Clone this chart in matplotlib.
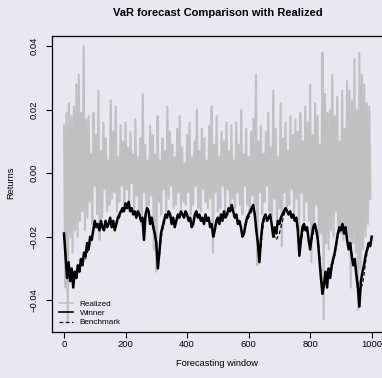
import matplotlib
matplotlib.use("Agg")
import matplotlib.pyplot as plt
import numpy as np

plt.rcParams['font.family'] = ['Liberation Sans', 'DejaVu Sans']

# realized returns, one value every 4 steps of the forecasting window
realized = [
    0.015, -0.036, 0.019, -0.047, 0.022, -0.020, 0.018, -0.025, 0.021, -0.018,
    0.028, -0.020, 0.031, -0.015, 0.019, -0.012, 0.040, -0.018, 0.017, -0.014,
    0.018, -0.009, 0.006, -0.016, 0.019, -0.004, 0.012, -0.013, 0.026, -0.021,
    0.007, -0.014, 0.016, -0.005, 0.011, -0.012, 0.004, -0.010, 0.023, -0.008,
    0.013, -0.006, 0.021, -0.012, 0.005, -0.009, 0.015, -0.004, 0.010, -0.011,
    0.016, -0.005, 0.008, -0.010, 0.013, -0.003, 0.006, -0.011, 0.017, -0.007,
    0.005, -0.012, 0.011, -0.016, 0.025, -0.006, 0.009, -0.012, 0.004, -0.010,
    0.015, -0.007, 0.012, -0.024, 0.006, -0.031, 0.018, -0.009, 0.004, -0.013,
    0.011, -0.005, 0.007, -0.012, 0.021, -0.008, 0.013, -0.004, 0.009, -0.011,
    0.005, -0.010, 0.014, -0.006, 0.018, -0.011, 0.008, -0.009, 0.003, -0.010,
    0.012, -0.006, 0.016, -0.013, 0.005, -0.010, 0.010, -0.004, 0.020, -0.011,
    0.007, -0.012, 0.014, -0.005, 0.011, -0.009, 0.004, -0.011, 0.015, -0.008,
    0.021, -0.025, 0.009, -0.006, 0.018, -0.012, 0.005, -0.011, 0.013, -0.004,
    0.010, -0.012, 0.016, -0.005, 0.007, -0.012, 0.015, -0.008, 0.004, -0.011,
    0.016, -0.006, 0.009, -0.010, 0.020, -0.013, 0.006, -0.004, 0.014, -0.010,
    0.005, -0.012, 0.013, -0.007, 0.017, -0.010, 0.031, -0.029, 0.010, -0.006,
    0.015, -0.013, 0.006, -0.009, 0.013, -0.004, 0.019, -0.012, 0.008, -0.014,
    0.026, -0.008, 0.014, -0.016, 0.005, -0.011, 0.022, -0.023, 0.011, -0.006,
    0.016, -0.012, 0.007, -0.010, 0.018, -0.005, 0.012, -0.014, 0.017, -0.008,
    0.013, -0.020, 0.019, -0.006, 0.010, -0.015, 0.021, -0.009, 0.016, -0.015,
    0.028, -0.028, 0.012, -0.018, 0.022, -0.010, 0.018, -0.020, 0.009, -0.019,
    0.038, -0.046, 0.025, -0.022, 0.019, -0.024, 0.020, -0.018, 0.031, -0.020,
    0.018, -0.012, 0.024, -0.017, 0.010, -0.019, 0.026, -0.021, 0.014, -0.018,
    0.029, -0.020, 0.026, -0.036, 0.023, -0.022, 0.036, -0.025, 0.020, -0.043,
    0.038, -0.030, 0.031, -0.024, 0.028, -0.020, 0.022, -0.016, 0.021, -0.008,
]

# VaR forecasts, one value every 5 steps (0 .. 1000)
winner = [
    -0.019, -0.026, -0.033, -0.028, -0.034, -0.030, -0.036, -0.031, -0.033, -0.029,
    -0.031, -0.027, -0.029, -0.025, -0.026, -0.022, -0.024, -0.020, -0.021, -0.018,
    -0.015, -0.017, -0.016, -0.018, -0.015, -0.017, -0.018, -0.015, -0.017, -0.016,
    -0.014, -0.017, -0.015, -0.018, -0.016, -0.014, -0.013, -0.012, -0.011, -0.012,
    -0.0095, -0.011, -0.009, -0.012, -0.011, -0.013, -0.012, -0.014, -0.012, -0.013,
    -0.015, -0.014, -0.021, -0.013, -0.011, -0.012, -0.016, -0.014, -0.017, -0.019,
    -0.022, -0.030, -0.025, -0.019, -0.017, -0.015, -0.013, -0.014, -0.012, -0.013,
    -0.016, -0.014, -0.017, -0.015, -0.013, -0.014, -0.012, -0.013, -0.014, -0.012,
    -0.013, -0.015, -0.014, -0.017, -0.016, -0.013, -0.012, -0.014, -0.013, -0.015,
    -0.014, -0.016, -0.013, -0.015, -0.014, -0.017, -0.016, -0.020, -0.018, -0.015,
    -0.014, -0.016, -0.013, -0.015, -0.012, -0.014, -0.013, -0.011, -0.012, -0.010,
    -0.012, -0.014, -0.013, -0.016, -0.015, -0.017, -0.020, -0.019, -0.016, -0.014,
    -0.013, -0.012, -0.011, -0.010, -0.013, -0.018, -0.022, -0.028, -0.021, -0.016,
    -0.014, -0.013, -0.015, -0.014, -0.013, -0.016, -0.020, -0.017, -0.019, -0.015,
    -0.016, -0.014, -0.013, -0.012, -0.011, -0.012, -0.013, -0.012, -0.014, -0.013,
    -0.015, -0.014, -0.018, -0.026, -0.021, -0.017, -0.016, -0.018, -0.017, -0.021,
    -0.024, -0.020, -0.017, -0.016, -0.018, -0.021, -0.027, -0.033, -0.038, -0.035,
    -0.031, -0.036, -0.030, -0.033, -0.029, -0.027, -0.025, -0.022, -0.019, -0.017,
    -0.018, -0.016, -0.019, -0.017, -0.021, -0.024, -0.022, -0.026, -0.029, -0.027,
    -0.032, -0.036, -0.042, -0.034, -0.031, -0.029, -0.026, -0.024, -0.022, -0.023,
    -0.020,
]

benchmark = [
    -0.020, -0.025, -0.031, -0.030, -0.032, -0.031, -0.034, -0.032, -0.032, -0.030,
    -0.030, -0.028, -0.028, -0.027, -0.027, -0.025, -0.024, -0.022, -0.021, -0.019,
    -0.016, -0.017, -0.017, -0.018, -0.016, -0.017, -0.018, -0.016, -0.017, -0.016,
    -0.015, -0.016, -0.016, -0.017, -0.016, -0.015, -0.014, -0.013, -0.012, -0.012,
    -0.011, -0.011, -0.010, -0.012, -0.011, -0.012, -0.012, -0.013, -0.013, -0.013,
    -0.014, -0.015, -0.019, -0.014, -0.012, -0.012, -0.015, -0.015, -0.016, -0.019,
    -0.023, -0.029, -0.026, -0.021, -0.018, -0.016, -0.014, -0.014, -0.013, -0.013,
    -0.015, -0.015, -0.016, -0.015, -0.014, -0.014, -0.013, -0.013, -0.014, -0.013,
    -0.013, -0.014, -0.015, -0.016, -0.016, -0.014, -0.013, -0.014, -0.014, -0.015,
    -0.015, -0.015, -0.014, -0.015, -0.015, -0.016, -0.017, -0.019, -0.018, -0.016,
    -0.015, -0.015, -0.014, -0.014, -0.013, -0.014, -0.013, -0.012, -0.012, -0.011,
    -0.012, -0.013, -0.014, -0.015, -0.016, -0.017, -0.019, -0.019, -0.017, -0.015,
    -0.014, -0.013, -0.012, -0.011, -0.013, -0.017, -0.022, -0.027, -0.023, -0.018,
    -0.015, -0.014, -0.015, -0.015, -0.014, -0.016, -0.019, -0.020, -0.021, -0.020,
    -0.019, -0.017, -0.015, -0.013, -0.012, -0.012, -0.013, -0.013, -0.014, -0.014,
    -0.015, -0.015, -0.017, -0.024, -0.022, -0.019, -0.017, -0.018, -0.018, -0.020,
    -0.023, -0.021, -0.019, -0.017, -0.018, -0.020, -0.025, -0.031, -0.036, -0.035,
    -0.032, -0.034, -0.031, -0.032, -0.030, -0.028, -0.026, -0.023, -0.020, -0.018,
    -0.018, -0.017, -0.018, -0.018, -0.020, -0.023, -0.023, -0.025, -0.028, -0.028,
    -0.031, -0.034, -0.039, -0.036, -0.035, -0.032, -0.028, -0.025, -0.023, -0.023,
    -0.021,
]

x_real = np.arange(len(realized)) * 4
x_var = np.arange(len(winner)) * 5

bg = '#E8E8F2'
fig = plt.figure(figsize=(3.82, 3.78), dpi=100, facecolor=bg)
ax = fig.add_axes([52/382, 1-332/378, 332/382, 296/378], facecolor=bg)

ax.plot(x_real, realized, color='#C0C0C0', lw=1.5, label='Realized')
ax.plot(x_var, winner, color='black', lw=1.8, label='Winner')
ax.plot(x_var, benchmark, color='black', lw=0.9, ls=(0, (3, 2)), label='Benchmark')

ax.set_xlim(-39, 1040)
ax.set_ylim(-0.0500, 0.0432)
ax.set_xticks([0, 200, 400, 600, 800, 1000])
ax.set_yticks([-0.04, -0.02, 0.0, 0.02, 0.04])
ax.set_yticklabels(['\u22120.04', '\u22120.02', '0.00', '0.02', '0.04'], rotation=90, va='center')
ax.tick_params(direction='out', length=4.5, width=0.8, labelsize=6.8, color='black')
ax.tick_params(axis='x', pad=1)
ax.tick_params(axis='y', pad=5)
for s in ax.spines.values():
    s.set_linewidth(0.9)

fig.text(218/382, 1-13.3/378, 'VaR forecast Comparison with Realized',
         ha='center', va='center', fontsize=8, fontweight='bold')
fig.text(217/382, 1-363/378, 'Forecasting window', ha='center', va='center', fontsize=6.7)
fig.text(11/382, 1-183/378, 'Returns', ha='center', va='center', fontsize=6.7, rotation=90)

leg = ax.legend(loc='upper left', bbox_to_anchor=(59/382, 1-300/378), bbox_transform=fig.transFigure,
                frameon=False, fontsize=5.9, handlelength=1.7, handletextpad=0.8,
                labelspacing=0.2, borderpad=0, borderaxespad=0)
leg.get_lines()[0].set_linewidth(1.2)
leg.get_lines()[1].set_linewidth(1.2)

fig.savefig('out.png', dpi=100, facecolor=bg)
